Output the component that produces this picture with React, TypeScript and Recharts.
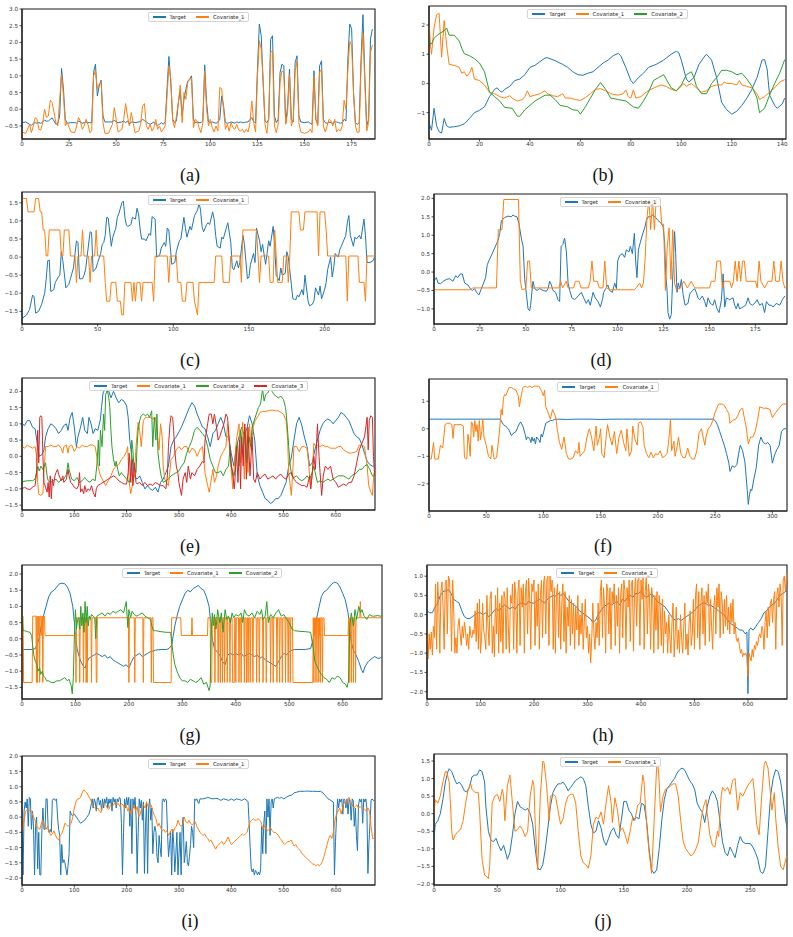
import { LineChart, Line, XAxis, YAxis, Legend, ReferenceArea } from "recharts";

type Pt = [number, number];

const BLUE = "#1f77b4";
const ORANGE = "#ff7f0e";
const GREEN = "#2ca02c";
const RED = "#d62728";
const FONT = "'DejaVu Sans', sans-serif";

// ---------- (a) ----------
const aTarget: Pt[] = [[0,-0.4],[2,-0.38],[4,-0.45],[5,-0.48],[6,-0.42],[7,-0.4],[8,-0.42],[9,-0.4],[10,-0.42],[11,-0.38],[12,-0.32],[13,-0.36],[14,-0.35],[15,-0.3],[16,-0.26],[17,-0.35],[18,-0.45],[19,-0.42],[20,-0.2],[21,1.22],[22,0.6],[23,-0.3],[24,-0.42],[26,-0.4],[28,-0.4],[29,-0.42],[30,-0.35],[31,-0.38],[32,-0.42],[33,-0.4],[34,-0.38],[35,-0.4],[36,-0.4],[37,-0.4],[38,1.1],[39,1.35],[40,0.4],[41,0.7],[42,0.87],[43,-0.2],[44,-0.38],[46,-0.38],[48,-0.38],[49,-0.32],[50,-0.38],[51,-0.4],[53,-0.38],[54,-0.35],[55,-0.4],[56,-0.35],[57,-0.45],[58,-0.38],[59,-0.38],[60,-0.4],[62,-0.38],[63,-0.36],[64,-0.3],[65,-0.34],[66,-0.38],[67,-0.42],[68,-0.45],[69,-0.42],[70,-0.38],[71,-0.45],[72,-0.48],[73,-0.45],[74,-0.4],[75,-0.45],[76,-0.38],[77,0.6],[78,1.58],[79,0.8],[80,-0.3],[81,-0.4],[82,-0.35],[83,0.2],[84,0.55],[85,-0.2],[86,0.3],[87,0.6],[88,0.85],[89,0.9],[90,1.0],[91,-0.3],[92,-0.4],[93,-0.38],[94,-0.4],[95,-0.4],[96,-0.35],[97,1.33],[98,0.2],[99,-0.38],[100,-0.4],[101,-0.38],[102,-0.4],[103,-0.42],[104,-0.38],[105,-0.3],[106,0.4],[107,0.1],[108,-0.4],[109,-0.42],[110,-0.4],[111,-0.38],[112,-0.4],[113,-0.42],[114,-0.38],[115,-0.4],[116,-0.38],[117,-0.4],[118,-0.4],[119,-0.38],[120,-0.38],[121,-0.3],[122,-0.25],[123,-0.38],[124,-0.4],[125,1.2],[126,2.55],[127,2.2],[128,0.8],[129,-0.35],[130,-0.4],[131,-0.3],[132,2.1],[133,2.2],[134,-0.2],[135,-0.4],[136,-0.3],[137,1.1],[138,1.35],[139,1.3],[140,-0.42],[141,0.1],[142,1.2],[143,-0.3],[144,-0.38],[145,1.4],[146,1.6],[147,-0.2],[148,-0.38],[150,-0.4],[152,-0.38],[153,-0.42],[154,-0.45],[155,1.15],[156,-0.3],[157,-0.45],[158,1.3],[159,1.45],[160,-0.3],[161,-0.4],[162,-0.42],[163,-0.38],[164,-0.4],[165,-0.42],[166,-0.38],[167,-0.38],[168,-0.4],[169,-0.42],[170,-0.4],[171,-0.3],[172,-0.35],[173,1.5],[174,2.55],[175,2.4],[176,0.5],[177,-0.4],[178,-0.45],[179,-0.4],[180,1.5],[181,2.83],[182,1.0],[183,-0.5],[184,-0.3],[185,2.1],[186,2.4]];
const aCov1: Pt[] = [[0,-0.68],[2,-0.72],[4,-0.45],[5,-0.7],[6,-0.5],[7,-0.25],[8,-0.3],[9,-0.6],[10,-0.62],[11,-0.4],[12,0.0],[13,-0.25],[14,-0.2],[15,0.27],[16,0.2],[17,-0.1],[18,-0.4],[19,-0.5],[20,0.3],[21,1.05],[22,0.4],[23,-0.5],[24,-0.4],[26,-0.68],[28,-0.7],[29,-0.5],[30,-0.25],[31,-0.35],[32,-0.6],[33,-0.5],[34,-0.3],[35,-0.45],[36,-0.7],[37,-0.65],[38,1.0],[39,1.15],[40,0.6],[41,0.75],[42,0.82],[43,-0.4],[44,-0.72],[46,-0.72],[48,-0.45],[49,0.05],[50,-0.3],[51,-0.68],[53,-0.6],[54,-0.3],[55,0.17],[56,-0.2],[57,-0.5],[58,-0.1],[59,-0.4],[60,-0.7],[62,-0.65],[63,-0.45],[64,0.1],[65,0.17],[66,-0.5],[67,-0.6],[68,-0.45],[69,-0.65],[70,-0.55],[71,-0.3],[72,-0.6],[73,-0.5],[74,-0.68],[75,-0.6],[76,-0.5],[77,0.4],[78,1.3],[79,0.9],[80,-0.35],[81,-0.55],[82,-0.2],[83,0.2],[84,0.72],[85,-0.4],[86,0.5],[87,0.3],[88,0.82],[89,0.88],[90,0.95],[91,-0.55],[92,-0.3],[93,-0.35],[94,-0.55],[95,-0.7],[96,-0.4],[97,1.15],[98,0.0],[99,-0.5],[100,-0.3],[101,-0.55],[102,-0.68],[103,-0.5],[104,-0.65],[105,0.65],[106,0.62],[107,0.0],[108,-0.6],[109,-0.45],[110,-0.65],[111,-0.4],[112,-0.55],[113,-0.6],[114,-0.45],[115,-0.62],[116,-0.65],[117,-0.6],[118,-0.7],[119,-0.6],[120,-0.68],[121,-0.4],[122,0.25],[123,-0.4],[124,-0.68],[125,1.0],[126,2.05],[127,1.8],[128,0.9],[129,-0.45],[130,-0.72],[131,-0.2],[132,1.7],[133,1.75],[134,-0.5],[135,-0.7],[136,-0.45],[137,0.8],[138,1.15],[139,1.1],[140,-0.45],[141,-0.1],[142,1.05],[143,-0.5],[144,-0.3],[145,1.15],[146,1.45],[147,-0.4],[148,-0.68],[150,-0.72],[152,-0.68],[153,-0.6],[154,-0.7],[155,1.0],[156,-0.3],[157,-0.5],[158,1.1],[159,1.2],[160,-0.5],[161,-0.68],[162,-0.5],[163,-0.3],[164,-0.35],[165,-0.5],[166,-0.3],[167,-0.68],[168,-0.6],[169,-0.65],[170,-0.5],[171,0.27],[172,0.0],[173,1.2],[174,2.03],[175,1.9],[176,0.5],[177,-0.5],[178,-0.7],[179,-0.68],[180,1.3],[181,2.28],[182,0.8],[183,-0.65],[184,-0.4],[185,1.7],[186,1.92]];

// ---------- (b) ----------
const bTarget: Pt[] = [[0,-1.35],[1,-1.6],[2,-0.85],[3,-1.45],[4,-1.65],[5,-1.7],[6,-1.2],[7,-1.45],[8,-1.5],[10,-1.48],[12,-1.45],[14,-1.38],[16,-1.2],[18,-1.0],[20,-0.92],[22,-0.8],[24,-0.45],[26,-0.2],[27,-0.15],[28,-0.25],[29,-0.3],[30,-0.2],[32,-0.1],[34,0.1],[36,0.15],[38,0.3],[40,0.55],[42,0.62],[44,0.75],[46,0.87],[47,0.88],[50,0.78],[53,0.65],[55,0.55],[57,0.4],[59,0.3],[61,0.28],[63,0.35],[65,0.4],[67,0.55],[69,0.7],[71,0.8],[73,0.95],[75,1.03],[76,0.95],[78,0.55],[80,0.1],[81,0.0],[83,0.2],[85,0.35],[87,0.55],[90,0.65],[93,0.8],[96,1.0],[98,1.1],[99,1.05],[100,0.8],[102,0.15],[103,0.05],[105,0.2],[107,0.65],[109,0.9],[110,1.0],[112,0.8],[114,0.2],[116,-0.65],[118,-0.9],[120,-1.05],[122,-0.95],[124,-0.75],[126,-0.5],[128,-0.2],[130,0.2],[132,0.8],[133,0.82],[134,0.5],[135,-0.4],[137,-0.75],[138,-0.85],[140,-0.7],[141,-0.5]];
const bCov1: Pt[] = [[0,2.15],[0.5,1.4],[1,1.0],[2,1.9],[3,2.35],[4,2.4],[5,0.9],[6,2.15],[7,1.3],[8,0.65],[10,0.62],[12,0.55],[13,0.35],[14,0.4],[15,0.25],[16,0.35],[17,0.55],[18,0.15],[20,0.1],[22,-0.05],[24,-0.3],[26,-0.35],[28,-0.45],[30,-0.5],[32,-0.42],[33,-0.5],[35,-0.6],[37,-0.55],[38,-0.45],[39,-0.25],[40,-0.45],[42,-0.4],[44,-0.35],[46,-0.25],[47,-0.35],[49,-0.42],[51,-0.45],[53,-0.35],[54,-0.5],[56,-0.5],[58,-0.55],[60,-0.58],[62,-0.48],[64,-0.35],[66,-0.2],[68,-0.18],[70,-0.25],[72,-0.35],[75,-0.4],[77,-0.35],[78,-0.22],[79,-0.45],[80,-0.5],[81,-0.22],[82,-0.5],[84,-0.45],[86,-0.3],[88,-0.2],[90,-0.12],[92,-0.05],[94,-0.1],[96,-0.2],[98,-0.25],[100,-0.1],[101,0.0],[102,-0.1],[104,0.0],[106,-0.15],[108,-0.3],[110,-0.25],[112,-0.1],[114,-0.05],[116,-0.05],[117,0.05],[118,0.0],[120,0.0],[122,-0.05],[123,0.1],[124,-0.05],[126,-0.1],[128,-0.15],[130,-0.35],[131,-0.55],[133,-0.45],[135,-0.3],[137,-0.15],[139,0.05],[141,0.13]];
const bCov2: Pt[] = [[0,1.4],[1,1.35],[2,1.55],[4,1.7],[6,1.8],[7,1.9],[8,1.65],[10,1.65],[12,1.45],[13,1.2],[14,1.02],[16,0.95],[18,0.85],[20,0.7],[22,0.4],[24,-0.3],[26,-0.45],[28,-0.6],[30,-0.82],[33,-0.85],[35,-1.12],[36,-1.12],[38,-0.9],[40,-0.75],[42,-0.6],[44,-0.5],[46,-0.4],[48,-0.4],[50,-0.55],[52,-0.75],[55,-0.8],[57,-0.9],[59,-0.92],[60,-1.05],[62,-0.8],[64,-0.5],[66,-0.2],[68,0.03],[70,-0.2],[72,-0.5],[75,-0.55],[78,-0.6],[81,-0.8],[83,-0.85],[85,-0.6],[87,-0.3],[89,0.1],[91,0.2],[93,0.3],[94,0.15],[96,-0.15],[98,-0.25],[100,-0.05],[102,0.3],[104,0.4],[105,0.2],[106,-0.1],[108,-0.35],[110,-0.35],[112,0.0],[114,0.2],[116,0.45],[118,0.45],[120,0.4],[122,0.3],[124,0.35],[126,0.15],[128,-0.1],[130,-0.5],[131,-1.0],[133,-0.85],[135,-0.4],[137,0.0],[139,0.35],[141,0.82]];

// ---------- (c) ----------
const cTarget: Pt[] = [[0,-1.7],[3,-1.6],[5,-1.45],[7,-1.05],[8,-1.1],[9,-1.55],[11,-1.5],[13,-1.3],[15,-1.0],[16,-0.6],[17,-0.1],[18,-0.08],[19,-0.95],[21,-0.9],[22,-0.7],[24,-0.55],[25,-0.5],[26,0.15],[27,-0.1],[29,-0.85],[31,-0.75],[32,-0.6],[34,-0.3],[36,0.45],[37,0.4],[38,-0.6],[40,-0.6],[41,-0.5],[42,-0.35],[43,0.0],[45,0.7],[46,0.68],[47,-0.4],[49,-0.3],[50,-0.15],[52,0.1],[53,0.35],[54,0.4],[55,0.6],[56,1.1],[57,1.08],[59,0.3],[60,0.55],[62,0.8],[63,1.1],[64,1.2],[66,1.5],[67,1.55],[68,1.1],[69,0.88],[70,0.85],[72,0.9],[73,1.1],[75,1.05],[76,1.35],[77,1.2],[78,0.8],[79,0.5],[81,0.5],[82,0.45],[84,0.65],[85,0.6],[86,1.12],[88,1.05],[89,0.0],[91,0.05],[92,0.25],[94,0.4],[95,0.3],[96,0.8],[97,0.75],[99,-0.2],[101,-0.15],[102,0.15],[104,0.45],[105,0.5],[107,1.1],[108,0.8],[109,0.55],[111,0.85],[112,0.75],[114,1.15],[116,1.3],[117,1.5],[118,1.3],[119,0.85],[120,0.7],[122,0.9],[123,0.95],[124,0.9],[126,1.25],[127,1.05],[128,0.6],[129,0.3],[131,0.25],[132,0.55],[133,0.5],[135,0.8],[136,0.95],[138,0.4],[139,-0.3],[140,-0.35],[142,-0.1],[143,-0.3],[144,-0.15],[146,0.6],[147,0.35],[149,-0.6],[150,-0.55],[151,-0.2],[153,0.1],[154,-0.15],[155,0.8],[157,0.45],[158,0.15],[159,0.35],[161,-0.2],[162,0.1],[163,0.45],[164,0.3],[166,0.85],[167,0.3],[168,-0.5],[170,-0.65],[171,-0.3],[172,-0.5],[174,-0.45],[175,0.15],[176,0.0],[178,-0.75],[179,-1.15],[181,-1.18],[182,-1.05],[183,-1.1],[185,-0.9],[186,-1.05],[187,-0.5],[189,-1.2],[190,-1.35],[192,-1.3],[193,-1.2],[194,-0.85],[196,-1.05],[197,-0.8],[198,-1.15],[200,-0.9],[201,-0.7],[202,-0.35],[204,0.0],[205,-0.55],[206,-0.3],[207,0.1],[209,0.0],[210,0.2],[211,0.3],[213,0.5],[214,0.6],[215,0.95],[216,1.15],[217,0.6],[219,0.3],[220,0.55],[221,0.5],[223,0.6],[224,0.5],[226,1.05],[227,0.6],[228,-0.15],[230,-0.15],[232,-0.1],[233,0.0]];
const cCov1: Pt[] = [[0,1.62],[3,1.62],[4,1.25],[8,1.25],[9,1.62],[11,1.62],[12,1.25],[13,1.25],[14,0.75],[15,0.75],[16,0.03],[17,0.03],[18,0.75],[25,0.75],[26,0.03],[27,0.03],[28,0.75],[31,0.75],[32,0.03],[35,0.03],[36,-0.7],[37,0.03],[39,0.03],[40,0.75],[41,0.03],[44,0.03],[45,-0.7],[46,0.03],[48,0.03],[49,0.75],[50,0.03],[54,0.03],[55,-0.7],[56,-1.22],[58,-1.22],[59,-0.7],[62,-0.7],[63,-1.22],[65,-1.22],[66,-1.6],[67,-1.6],[68,-0.7],[72,-0.7],[73,-1.22],[74,-0.7],[75,-1.22],[76,-0.7],[78,-0.7],[79,-1.22],[80,-0.7],[86,-0.7],[87,-1.22],[88,0.03],[96,0.03],[97,-0.7],[98,0.03],[102,0.03],[103,-0.7],[105,-0.7],[106,-1.22],[108,-1.22],[109,-0.7],[113,-0.7],[114,-1.22],[116,-1.6],[117,-0.7],[127,-0.7],[128,0.03],[132,0.03],[133,-0.7],[137,-0.7],[138,0.03],[144,0.03],[145,-0.7],[146,0.75],[155,0.75],[156,0.03],[157,-0.7],[158,0.03],[163,0.03],[164,-0.7],[166,-0.7],[167,0.75],[168,0.03],[169,-0.7],[172,-0.7],[173,0.03],[175,0.03],[176,-0.7],[177,0.03],[178,1.25],[183,1.25],[184,0.75],[186,0.75],[187,1.25],[195,1.25],[196,0.03],[197,1.25],[200,1.25],[201,0.75],[202,0.03],[214,0.03],[215,-1.22],[216,0.03],[222,0.03],[223,-0.7],[226,-0.7],[227,-1.22],[228,0.03],[233,0.03]];

// ---------- (d) ----------
const dTarget: Pt[] = [[0,-0.25],[1.3,-0.15],[2.2,-0.3],[3.6,-0.32],[5,-0.25],[6.7,-0.2],[8.5,-0.18],[10.3,-0.25],[11.8,-0.1],[13,-0.15],[14.3,-0.05],[15.4,-0.05],[16.7,-0.3],[18.5,-0.35],[19.8,-0.45],[20.9,-0.5],[22.1,-0.45],[23.6,-0.58],[24.5,-0.62],[25.8,-0.45],[27,-0.3],[28.1,-0.15],[29,0.2],[30.3,0.35],[32.1,0.55],[33.9,0.75],[34.8,0.85],[35.8,1.05],[36.7,1.4],[38.5,1.48],[40.3,1.52],[42.1,1.5],[43,1.55],[43.9,1.52],[45.2,1.5],[46.3,1.3],[47.6,0.9],[48.5,0.7],[49.4,-0.2],[50.3,-0.6],[51.2,-1.0],[52.1,-1.05],[52.6,-0.9],[53.9,-0.25],[54.8,-0.45],[56.1,-0.5],[57.5,-0.45],[59.4,-0.5],[61.2,-0.52],[62.1,-0.45],[63,-0.25],[63.9,-0.35],[64.8,-0.5],[66.2,-0.55],[67.5,-0.75],[68.4,-0.8],[69.2,0.7],[70.2,0.75],[71.1,0.92],[72.1,0.55],[73,-0.3],[73.9,-0.5],[75.1,-0.7],[76.6,-0.75],[78.4,-0.65],[80.2,-0.55],[81.5,-0.7],[82.9,-0.85],[84,-0.75],[85.1,-0.9],[86.6,-0.55],[87.8,-0.7],[89.3,-0.8],[90.6,-0.95],[91.7,-0.75],[92.4,-0.55],[93.5,-0.45],[94.7,-0.35],[95.6,-0.5],[97.1,-0.55],[98.4,-0.3],[99.3,-0.45],[100,0.3],[101.1,0.45],[102.5,0.5],[103.8,0.4],[104.7,0.6],[106.2,0.55],[106.9,0.7],[108,0.5],[109.1,1.05],[109.8,0.3],[110.5,-0.15],[111.3,0.6],[112.3,0.8],[113.4,1.0],[114.7,1.2],[115.6,1.4],[116.5,1.5],[117.8,1.5],[119.2,1.55],[120.7,1.48],[122,1.4],[123.2,1.35],[124.7,1.25],[125.6,0.8],[126.1,0.0],[126.9,-0.5],[127.4,-1.1],[128.3,-1.28],[129.2,-1.15],[130.1,0.0],[131,1.1],[131.6,0.5],[132.3,-0.55],[133,-0.3],[133.8,-0.45],[134.7,-0.2],[135.6,-0.6],[136.7,-0.9],[138.3,-0.85],[139.2,-0.6],[140.7,-0.5],[141.9,-0.45],[142.8,-0.55],[143.7,-0.7],[144.7,-0.75],[146.1,-0.65],[147.4,-0.8],[148.3,-0.95],[149.2,-0.7],[150.5,-0.85],[151.9,-0.9],[152.8,-0.75],[154.1,-1.0],[155.2,-1.1],[156.5,-0.75],[157.4,-0.05],[158.3,-0.95],[159.2,-0.7],[161,-0.75],[162.8,-0.7],[163.7,-0.9],[164.6,-1.0],[165.5,-0.85],[166.4,-1.0],[168.2,-0.95],[169.7,-0.9],[171,-0.7],[171.9,-0.85],[173.3,-0.9],[174.6,-0.85],[175.9,-0.75],[177.3,-0.9],[178.8,-0.85],[180,-1.1],[181,-0.8],[182.4,-0.9],[183.7,-0.9],[184.6,-0.95],[186.4,-0.85],[188.2,-0.9],[189.7,-0.75],[191,-0.65]];
const dCov1: Pt[] = [[0,-0.48],[20,-0.48],[21,-0.43],[34,-0.43],[35,1.15],[37,1.15],[38,1.97],[46,1.97],[47,-0.25],[48,-0.48],[50,-0.45],[51,0.3],[52,0.3],[53,-0.43],[68,-0.43],[69,-0.25],[70,-0.43],[72,-0.25],[73,-0.43],[76,-0.43],[77,-0.25],[79,-0.25],[80,-0.43],[84,-0.43],[85,-0.25],[86,0.3],[87,-0.25],[89,-0.25],[90,-0.43],[92,-0.43],[93,0.3],[94,-0.43],[96,-0.48],[109,-0.48],[110,-0.43],[112,-0.3],[113,-0.43],[114,-0.3],[115,0.4],[116,1.5],[117,1.97],[118,1.15],[119,1.97],[120,1.15],[121,1.97],[123,1.97],[124,1.3],[125,1.3],[126,-0.5],[127,0.7],[128,1.2],[129,-0.2],[130,1.15],[131,-0.3],[132,-0.48],[134,-0.43],[136,-0.25],[138,-0.43],[140,-0.25],[142,-0.43],[150,-0.43],[151,-0.25],[153,-0.25],[154,0.3],[156,0.3],[157,-0.43],[158,-0.25],[161,-0.25],[162,-0.43],[163,-0.25],[164,0.3],[165,-0.25],[166,0.3],[167,-0.25],[168,0.3],[169,0.3],[170,-0.25],[175,-0.25],[176,-0.43],[177,0.3],[178,-0.25],[180,-0.43],[182,-0.25],[184,-0.25],[185,0.3],[186,-0.25],[188,-0.25],[189,0.3],[190,-0.25],[191,-0.43],[192,-0.43]];

// ---------- (e) ----------
const eTarget: Pt[] = [[0,1.0],[5,0.95],[10,1.1],[15,1.1],[20,0.9],[25,0.85],[30,0.3],[33,0.0],[38,0.05],[42,0.2],[45,0.6],[50,0.85],[55,1.0],[60,0.95],[65,0.85],[70,0.7],[75,0.8],[80,0.95],[85,1.0],[88,0.8],[92,1.2],[96,1.35],[100,0.9],[104,0.3],[107,0.6],[112,0.9],[116,1.2],[120,0.8],[125,0.7],[128,1.2],[132,1.0],[136,0.7],[140,0.85],[145,0.8],[150,1.15],[152,1.5],[155,1.95],[160,2.1],[165,2.05],[170,1.8],[175,2.0],[180,1.8],[185,1.65],[190,1.75],[195,1.7],[200,1.55],[203,1.2],[206,0.5],[210,0.0],[215,-0.6],[220,-0.7],[225,-0.6],[230,-0.8],[235,-1.0],[240,-0.9],[245,-1.0],[250,-1.05],[255,-0.95],[260,-1.1],[265,-0.8],[270,-0.7],[275,-0.5],[280,-0.3],[285,0.3],[290,0.5],[295,0.6],[300,0.75],[305,0.9],[310,1.1],[315,1.3],[320,1.5],[325,1.65],[330,1.55],[335,1.3],[340,1.1],[345,0.9],[350,0.85],[355,0.6],[360,0.3],[365,0.7],[370,0.8],[375,1.0],[380,1.2],[385,1.0],[390,0.6],[395,0.6],[400,0.1],[405,-0.3],[410,0.3],[415,0.6],[420,0.9],[425,0.65],[430,0.85],[435,1.25],[440,1.0],[445,0.5],[450,-0.6],[455,-0.9],[460,-1.1],[465,-1.3],[470,-1.35],[475,-1.45],[480,-1.4],[485,-1.3],[490,-1.3],[495,-1.2],[500,-1.0],[505,-0.8],[510,-0.3],[515,-0.05],[520,0.5],[525,1.0],[530,1.2],[535,0.95],[540,0.6],[545,0.3],[550,-0.3],[555,-0.2],[560,0.2],[565,0.5],[570,0.8],[575,1.0],[580,1.1],[585,1.15],[590,1.1],[595,1.0],[600,1.1],[605,1.2],[610,1.35],[615,1.3],[620,1.2],[625,1.1],[630,0.9],[635,0.7],[640,0.6],[645,0.55],[650,0.35],[655,0.1],[660,-0.15],[665,-0.25],[670,-0.3],[675,-0.3]];
const eCov1: Pt[] = [[0,0.3],[5,0.25],[10,0.35],[15,0.3],[20,0.25],[25,0.3],[28,0.0],[30,-0.8],[32,-1.15],[35,-1.2],[40,-1.15],[42,-0.5],[45,0.3],[50,0.3],[55,0.35],[60,0.3],[65,0.3],[70,0.35],[75,0.25],[78,0.1],[80,0.3],[85,0.35],[88,0.1],[90,0.3],[95,0.35],[100,0.15],[105,0.3],[110,0.25],[115,0.35],[120,0.3],[125,0.3],[130,0.35],[135,0.35],[140,0.3],[143,0.0],[146,-0.35],[150,-0.6],[155,-0.75],[160,-0.9],[165,-0.75],[170,-0.6],[175,-0.4],[180,-0.3],[185,-0.25],[190,-0.1],[195,0.0],[200,0.15],[202,0.3],[205,-0.8],[208,-1.15],[212,-0.8],[215,-0.6],[218,0.3],[222,1.05],[225,0.8],[228,0.3],[232,1.1],[236,1.2],[240,1.2],[245,1.2],[250,1.15],[255,1.2],[258,0.8],[262,0.2],[265,1.0],[268,0.6],[270,-0.3],[273,-0.7],[276,-0.8],[280,-0.9],[285,-0.1],[290,0.0],[295,0.2],[300,0.3],[305,0.2],[310,0.3],[315,0.3],[320,0.1],[325,0.25],[330,0.2],[335,0.0],[340,0.2],[345,0.3],[350,-0.5],[355,-0.9],[358,-1.1],[362,-0.7],[365,-0.4],[368,-0.8],[372,-0.6],[375,-0.3],[380,0.0],[385,0.15],[390,0.3],[393,1.0],[396,0.5],[400,-0.4],[403,-1.0],[406,-0.3],[410,0.5],[415,1.0],[418,-0.2],[422,1.05],[425,-0.7],[428,0.8],[432,-0.5],[435,1.0],[438,0.2],[442,0.9],[446,1.1],[450,1.2],[455,1.35],[460,1.38],[465,1.38],[470,1.4],[475,1.42],[480,1.42],[485,1.4],[490,1.4],[495,1.35],[500,1.3],[505,1.1],[508,0.5],[510,-0.5],[513,-0.9],[515,-1.2],[518,-0.4],[520,0.3],[525,0.3],[530,0.15],[535,0.3],[540,0.3],[545,0.25],[548,-0.2],[552,-1.0],[555,-0.6],[558,0.4],[562,0.3],[565,0.35],[570,0.3],[575,0.35],[580,0.3],[585,0.3],[590,0.25],[595,0.25],[600,0.25],[605,0.3],[610,0.3],[615,0.2],[620,0.15],[625,0.1],[630,0.1],[635,0.12],[640,0.15],[645,0.35],[650,0.35],[655,0.3],[660,-0.3],[663,-0.9],[667,-1.1],[670,-1.2],[673,-0.5],[675,-0.5]];
const eCov2: Pt[] = [[0,-0.78],[10,-0.75],[20,-0.75],[25,-0.7],[30,-0.3],[33,-0.45],[36,-0.3],[40,-0.4],[45,-0.2],[48,-0.6],[50,-0.75],[55,-0.8],[60,-0.75],[65,-0.7],[70,-0.8],[75,-0.72],[80,-0.7],[85,-0.55],[88,-0.2],[90,-0.4],[95,-0.7],[100,-0.75],[105,-0.65],[110,-0.8],[115,-0.75],[120,-0.65],[125,-0.75],[130,-0.8],[135,-0.7],[140,-0.75],[143,-0.3],[146,0.5],[148,-0.3],[150,0.8],[153,0.3],[156,1.3],[158,0.8],[160,1.9],[163,2.05],[166,1.8],[168,1.5],[170,0.8],[172,0.3],[175,-0.1],[178,-0.3],[180,-0.15],[183,-0.4],[186,-0.6],[190,-0.5],[195,-0.6],[200,-0.7],[205,-0.8],[208,-0.6],[210,0.5],[212,0.2],[214,-0.3],[218,-0.5],[220,0.3],[222,0.8],[225,1.1],[228,1.25],[232,1.3],[236,1.25],[240,1.3],[244,1.2],[248,1.4],[250,0.3],[253,1.2],[256,0.5],[258,1.3],[260,0.1],[263,-0.3],[266,-0.6],[270,-0.8],[275,-0.75],[280,-0.7],[285,-0.6],[290,-0.55],[295,-0.5],[300,-0.45],[305,-0.3],[310,-0.2],[315,0.1],[320,0.3],[325,0.5],[330,0.8],[335,0.9],[340,0.8],[345,0.7],[350,0.6],[355,0.3],[360,-0.1],[365,-0.3],[370,-0.5],[375,-0.5],[380,-0.45],[385,-0.6],[390,-0.4],[395,-0.3],[398,0.3],[400,-0.3],[405,-0.6],[408,-0.4],[412,0.4],[415,-0.3],[418,0.8],[422,0.1],[426,0.9],[430,-0.2],[434,0.6],[437,0.3],[440,0.9],[444,1.1],[448,1.3],[452,1.5],[456,1.6],[460,2.05],[463,1.7],[466,1.9],[470,1.95],[475,2.1],[478,2.0],[482,1.9],[486,1.85],[490,1.8],[495,1.85],[500,1.75],[504,1.5],[507,1.0],[510,0.3],[513,-0.3],[516,-0.6],[520,-0.65],[525,-0.6],[530,-0.7],[535,-0.75],[540,-0.7],[545,-0.6],[550,-0.7],[555,-0.5],[558,-0.3],[562,-0.6],[565,-0.8],[570,-0.75],[575,-0.8],[580,-0.75],[585,-0.7],[590,-0.75],[595,-0.7],[600,-0.65],[605,-0.6],[610,-0.6],[615,-0.6],[620,-0.65],[625,-0.7],[630,-0.6],[635,-0.55],[640,-0.5],[645,-0.4],[650,-0.4],[655,-0.3],[660,-0.25],[665,-0.4],[670,-0.6],[675,-0.6]];
const eCov3: Pt[] = [[0,-1.0],[5,-0.95],[10,-1.0],[15,-1.02],[20,-0.95],[25,-0.9],[28,-0.5],[30,0.8],[32,-0.2],[34,1.2],[36,1.25],[38,1.2],[40,0.0],[42,-0.8],[45,-0.95],[48,-1.1],[50,-0.8],[52,-1.25],[54,-0.6],[56,-1.3],[58,-0.7],[60,-0.9],[63,-0.6],[65,-0.5],[68,-0.4],[70,-0.55],[75,-0.75],[78,-0.6],[80,-0.8],[85,-0.7],[88,-0.4],[90,-0.6],[93,-0.8],[96,-0.85],[100,-0.95],[105,-1.0],[108,-0.9],[110,-0.5],[112,-1.1],[115,-1.0],[118,-1.15],[120,-0.9],[123,-1.1],[126,-1.0],[130,-1.05],[133,-0.9],[136,-1.1],[140,-1.25],[142,-1.0],[145,-0.9],[150,-0.85],[155,-0.8],[160,-0.75],[165,-0.7],[170,-0.65],[175,-0.6],[180,-0.65],[185,-0.75],[190,-0.8],[195,-0.85],[200,-0.85],[203,-0.5],[205,0.1],[208,-0.8],[210,-0.1],[212,-0.9],[215,-0.2],[218,-0.8],[220,-0.85],[225,-0.8],[230,-0.9],[235,-0.8],[240,-0.9],[245,-0.85],[250,-0.9],[255,-0.8],[260,-0.85],[265,-0.9],[270,-0.9],[275,-1.0],[278,-0.6],[280,0.3],[283,1.0],[285,1.25],[288,1.2],[290,0.8],[292,0.2],[295,-0.3],[298,-0.5],[300,-0.8],[305,-1.2],[308,-0.7],[312,-0.5],[315,-0.8],[318,-0.3],[322,-0.7],[325,-0.5],[330,-0.6],[335,-0.4],[340,-0.3],[345,-0.15],[348,-0.2],[350,0.5],[355,1.0],[358,1.3],[362,1.3],[365,1.0],[368,1.3],[372,0.9],[375,0.5],[378,0.6],[382,0.8],[386,1.0],[390,1.3],[393,1.2],[396,0.6],[400,-0.2],[403,-0.6],[406,-1.0],[408,-0.5],[410,0.3],[413,-0.8],[416,0.5],[418,-1.0],[420,0.6],[423,-0.3],[426,1.0],[429,-0.7],[432,0.9],[436,-0.6],[440,0.6],[443,-0.7],[446,-0.8],[450,-0.5],[455,-0.7],[460,-0.6],[465,-0.55],[470,-0.7],[475,-0.65],[480,-0.6],[485,-0.7],[490,-0.6],[495,-0.55],[500,-0.65],[505,-0.7],[510,-0.55],[515,-0.5],[520,-0.7],[525,-0.8],[530,-0.85],[535,-0.9],[540,-0.9],[545,-0.95],[550,-0.6],[552,-1.0],[555,-0.5],[558,0.0],[561,-0.4],[565,1.0],[568,0.0],[570,-0.5],[573,-1.2],[576,-0.6],[580,-0.3],[585,-0.4],[590,-0.3],[595,-0.7],[600,-0.8],[605,-0.95],[610,-0.9],[615,-0.85],[620,-0.9],[625,-0.8],[630,-0.8],[635,-0.6],[640,-0.2],[645,0.2],[650,0.4],[655,0.6],[660,1.2],[662,0.2],[664,1.1],[667,1.25],[670,1.2],[672,0.0],[674,-0.5],[675,-0.6]];

// ---------- (f) ----------
const fTarget: Pt[] = [[0,0.35],[62,0.35],[63,0.3],[65,0.15],[67,0.1],[70,-0.05],[72,-0.25],[74,-0.15],[76,-0.1],[78,0.1],[80,0.25],[82,0.1],[84,-0.2],[85,-0.4],[86,-0.3],[88,-0.35],[89,-0.5],[90,-0.3],[91,-0.45],[92,-0.35],[93,-0.55],[94,-0.3],[96,-0.4],[97,-0.5],[98,-0.2],[99,-0.3],[100,-0.15],[102,0.2],[104,0.25],[106,0.3],[108,0.3],[110,0.35],[112,0.35],[120,0.34],[130,0.35],[140,0.35],[150,0.34],[160,0.35],[170,0.35],[180,0.35],[190,0.35],[200,0.35],[210,0.35],[220,0.35],[230,0.35],[240,0.35],[248,0.35],[250,0.3],[252,0.15],[254,-0.1],[256,-0.35],[258,-0.6],[260,-0.9],[262,-1.25],[263,-1.55],[265,-1.35],[267,-1.4],[269,-1.3],[271,-0.8],[272,-0.6],[273,-0.7],[274,-0.8],[276,-1.2],[277,-1.7],[278,-2.2],[279,-2.75],[280,-2.4],[281,-2.2],[282,-2.25],[284,-1.8],[286,-1.4],[287,-1.0],[288,-0.6],[290,-0.3],[292,-0.5],[294,-0.55],[296,-0.5],[298,-0.6],[300,-1.25],[302,-0.95],[304,-0.75],[306,-0.6],[308,-0.1],[310,0.0],[312,0.0]];
const fCov1: Pt[] = [[0,-1.1],[2,-1.1],[4,-0.5],[5,-1.1],[8,-1.1],[10,-0.6],[12,-0.7],[14,0.15],[16,0.2],[18,0.2],[20,0.15],[21,-0.35],[22,0.15],[24,0.15],[28,0.15],[30,0.1],[31,-1.05],[33,-1.1],[34,-0.2],[35,-0.5],[36,-1.0],[37,0.25],[38,0.2],[39,-0.3],[40,0.3],[41,-0.1],[42,0.15],[43,-0.45],[44,0.3],[45,-0.4],[46,-0.1],[47,0.35],[48,-0.3],[50,-0.6],[52,-1.0],[54,-1.1],[55,-0.6],[57,-1.1],[59,-1.05],[60,-0.7],[61,-0.3],[62,0.1],[63,0.7],[64,0.5],[65,1.1],[66,1.25],[67,1.2],[68,1.3],[70,1.5],[72,1.5],[74,1.45],[76,1.4],[78,1.2],[79,0.8],[80,1.1],[82,1.5],[84,1.55],[86,1.5],[88,1.55],[90,1.5],[92,1.55],[94,1.55],[96,1.55],[98,1.4],[100,1.2],[101,1.4],[102,0.8],[104,0.6],[106,0.35],[108,0.7],[110,0.5],[111,0.35],[112,0.0],[114,-0.5],[116,-0.75],[118,-0.3],[120,-0.9],[122,-1.1],[124,-1.1],[126,-1.05],[128,-0.8],[130,-0.9],[131,-0.5],[132,-1.0],[134,-0.9],[136,-0.8],[138,-0.3],[140,0.0],[142,-0.3],[144,-0.8],[146,0.1],[147,-0.6],[149,-0.3],[150,0.0],[151,-0.9],[153,-1.05],[155,-0.2],[156,0.15],[158,-0.3],[160,-0.6],[162,-0.1],[164,-0.9],[166,-0.3],[168,-0.05],[170,-0.5],[172,-0.8],[173,0.0],[175,-1.0],[177,-0.8],[178,0.1],[180,-0.4],[182,-0.6],[183,0.2],[185,0.25],[187,0.05],[188,-0.6],[190,-0.9],[192,-1.05],[194,-0.85],[196,-1.05],[198,-0.9],[200,-0.95],[202,-0.8],[204,-1.05],[206,-1.0],[208,-0.9],[209,-0.6],[210,-0.2],[211,0.35],[212,-0.8],[214,-0.45],[215,-1.0],[217,-0.6],[218,-0.3],[220,-0.9],[222,-1.05],[224,-1.05],[226,-0.7],[228,-1.0],[230,-1.1],[232,-1.1],[234,-0.8],[236,-0.15],[238,0.0],[240,-0.4],[241,-0.6],[242,-0.3],[244,0.0],[246,0.1],[248,0.3],[250,0.6],[253,0.9],[256,0.9],[258,0.85],[260,0.7],[262,0.55],[263,0.2],[265,0.3],[268,0.35],[270,0.5],[272,0.7],[274,0.75],[275,0.5],[277,0.1],[279,-0.55],[281,-0.3],[283,-0.3],[285,-0.1],[287,0.3],[289,0.8],[292,0.75],[295,0.75],[298,0.7],[300,0.4],[303,0.6],[306,0.75],[309,0.9],[312,0.9]];

// ---------- (g) ----------
const gTarget: Pt[] = [[0,-0.33],[20,-0.33],[25,-0.3],[30,-0.1],[33,0.1],[36,0.4],[40,0.7],[45,1.0],[50,1.3],[55,1.45],[60,1.5],[65,1.6],[70,1.7],[75,1.72],[80,1.7],[85,1.6],[90,1.4],[95,1.0],[98,0.5],[100,0.1],[103,-0.3],[106,-0.5],[110,-0.7],[115,-0.85],[118,-0.9],[120,-0.8],[125,-0.6],[130,-0.55],[135,-0.5],[140,-0.45],[145,-0.5],[150,-0.55],[155,-0.5],[160,-0.6],[165,-0.55],[170,-0.65],[175,-0.7],[180,-0.75],[185,-0.8],[190,-0.85],[195,-0.8],[200,-0.9],[205,-0.7],[210,-0.55],[215,-0.5],[220,-0.45],[225,-0.55],[230,-0.5],[235,-0.45],[240,-0.4],[245,-0.38],[250,-0.35],[260,-0.33],[270,-0.33],[275,-0.3],[280,-0.2],[283,0.1],[286,0.4],[290,0.7],[295,1.0],[300,1.2],[305,1.4],[310,1.5],[315,1.45],[320,1.55],[325,1.6],[330,1.65],[335,1.55],[340,1.5],[345,1.3],[350,1.0],[353,0.5],[356,0.0],[360,-0.3],[365,-0.4],[370,-0.5],[375,-0.7],[380,-0.8],[385,-0.5],[390,-0.45],[395,-0.5],[400,-0.45],[405,-0.5],[410,-0.45],[415,-0.55],[420,-0.5],[425,-0.45],[430,-0.5],[435,-0.55],[440,-0.5],[445,-0.6],[450,-0.55],[455,-0.65],[460,-0.7],[465,-0.75],[470,-0.8],[475,-0.85],[480,-0.7],[485,-0.55],[490,-0.45],[495,-0.5],[500,-0.4],[505,-0.35],[510,-0.33],[520,-0.33],[530,-0.33],[540,-0.3],[545,0.0],[548,0.4],[552,0.7],[556,1.0],[560,1.3],[565,1.45],[570,1.5],[575,1.6],[580,1.7],[585,1.75],[590,1.72],[595,1.6],[600,1.4],[605,1.2],[610,0.8],[613,0.3],[616,-0.1],[620,-0.35],[625,-0.5],[630,-0.7],[635,-0.95],[638,-1.05],[642,-0.85],[648,-0.7],[655,-0.6],[660,-0.55],[665,-0.6],[670,-0.6],[673,-0.55]];
const gCov1: Pt[] = [[0,0.7],[2,0.7],[3,-1.35],[19,-1.35],[20,0.7],[26,0.7],[27,-1.35],[28,0.7],[29,-1.35],[30,0.7],[31,0.1],[32,0.7],[33,-1.35],[34,0.7],[36,0.7],[37,0.1],[38,0.7],[39,-1.35],[40,0.7],[42,0.7],[43,0.1],[99,0.1],[100,0.15],[101,-1.35],[102,0.65],[107,0.65],[108,-1.35],[109,0.65],[114,0.65],[115,-1.35],[116,0.65],[119,0.65],[120,-1.35],[121,0.65],[122,-1.35],[123,0.65],[129,0.65],[130,-1.35],[131,0.65],[138,0.65],[139,-1.35],[140,-1.35],[141,0.65],[199,0.65],[200,-1.35],[201,0.65],[210,0.65],[211,-1.35],[212,0.65],[226,0.65],[227,-1.35],[228,0.65],[241,0.65],[242,-1.35],[243,0.65],[245,0.65],[246,-1.35],[279,-1.35],[280,0.65],[297,0.65],[298,0.1],[317,0.1],[318,0.65],[319,0.1],[347,0.1],[348,0.65],[352,0.65],[353,-1.35],[355,-1.35],[356,0.65],[360,0.65],[361,-1.35],[362,0.65],[366,0.65],[367,-1.35],[368,0.65],[370,0.65],[371,-1.35],[372,0.65],[374,0.65],[375,-1.35],[376,0.65],[378,0.65],[379,-1.35],[380,0.65],[383,0.65],[384,-1.35],[385,0.65],[388,0.65],[389,-1.35],[390,0.65],[393,0.65],[394,-1.35],[397,-1.35],[398,0.65],[399,0.65],[400,-1.35],[401,0.65],[405,0.65],[406,-1.35],[407,0.65],[409,0.65],[410,-1.35],[411,0.65],[415,0.65],[416,-1.35],[417,0.65],[419,0.65],[420,-1.35],[421,0.65],[422,0.65],[423,-1.35],[424,0.65],[426,0.65],[427,-1.35],[428,0.65],[431,0.65],[432,-1.35],[433,0.65],[438,0.65],[439,-1.35],[440,0.65],[443,0.65],[444,-1.35],[445,0.65],[450,0.65],[451,-1.35],[452,0.65],[456,0.65],[457,-1.35],[458,0.65],[464,0.65],[465,-1.35],[466,0.65],[469,0.65],[470,-1.35],[471,0.65],[476,0.65],[477,-1.35],[478,0.65],[481,0.65],[482,-1.35],[483,0.65],[486,0.65],[487,-1.35],[488,0.65],[492,0.65],[493,-1.35],[494,0.65],[497,0.65],[498,-1.35],[499,0.65],[501,0.65],[502,-1.35],[503,0.65],[506,0.65],[507,-1.35],[544,-1.35],[545,0.65],[546,-1.35],[547,0.65],[548,0.1],[549,0.65],[550,-1.35],[551,0.65],[553,0.65],[554,-1.35],[555,0.65],[556,0.1],[557,0.65],[558,-1.35],[559,0.65],[561,0.65],[562,-1.35],[563,0.65],[565,0.65],[566,0.1],[610,0.1],[611,0.65],[612,-1.35],[613,0.65],[615,0.65],[616,-1.35],[617,0.65],[619,0.65],[620,-1.35],[621,0.65],[623,0.65],[624,-1.35],[625,0.65],[632,0.65],[633,1.15],[634,0.65],[673,0.65]];
const gCov2: Pt[] = [[0,0.7],[2,0.25],[5,0.25],[10,0.22],[15,0.2],[18,0.1],[20,-0.2],[22,-0.5],[25,-0.7],[28,-0.8],[30,-1.0],[33,-0.9],[35,-1.1],[38,-1.0],[40,-1.15],[43,-1.2],[46,-1.3],[50,-1.3],[55,-1.35],[60,-1.35],[65,-1.3],[70,-1.3],[75,-1.25],[80,-1.2],[85,-1.3],[88,-1.25],[90,-1.35],[92,-1.45],[94,-1.7],[96,-1.2],[98,0.1],[100,0.9],[102,0.3],[104,0.6],[106,0.65],[108,0.3],[110,1.0],[112,0.4],[114,0.8],[116,0.2],[118,1.15],[120,0.5],[122,1.0],[124,0.4],[126,0.7],[128,0.6],[130,0.75],[133,0.7],[136,0.65],[138,0.0],[140,0.7],[145,0.75],[150,0.8],[155,0.7],[160,0.8],[165,0.75],[170,0.85],[175,0.8],[180,0.85],[185,0.9],[190,0.8],[195,1.15],[198,0.35],[200,0.9],[203,0.65],[206,0.85],[210,0.75],[215,0.7],[220,0.75],[225,0.8],[230,0.7],[235,0.65],[240,0.6],[243,0.4],[246,0.25],[250,0.25],[260,0.22],[270,0.2],[278,0.2],[280,-0.1],[283,-0.5],[286,-0.8],[290,-1.0],[295,-1.2],[300,-1.3],[305,-1.3],[310,-1.35],[315,-1.25],[320,-1.3],[325,-1.35],[330,-1.3],[335,-1.2],[340,-1.4],[345,-1.35],[348,-1.5],[350,-1.6],[352,-1.45],[354,0.2],[356,0.8],[358,0.4],[360,0.75],[363,0.3],[366,0.9],[370,0.5],[373,0.8],[376,0.2],[380,0.9],[383,0.6],[386,0.7],[390,0.5],[393,0.8],[396,0.65],[400,0.75],[405,0.7],[410,0.8],[413,0.5],[416,0.9],[420,0.75],[425,0.7],[430,0.8],[435,0.65],[440,0.85],[445,0.75],[448,0.9],[451,0.6],[455,0.7],[458,1.15],[461,0.5],[465,0.75],[470,0.65],[475,0.8],[480,0.9],[485,0.7],[490,0.75],[495,0.6],[500,0.5],[505,0.3],[510,0.25],[520,0.23],[530,0.22],[540,0.2],[545,-0.3],[548,-0.7],[552,-0.85],[556,-1.0],[560,-1.1],[565,-1.2],[570,-1.25],[575,-1.35],[580,-1.2],[585,-1.25],[590,-1.15],[595,-1.2],[600,-1.35],[605,-1.4],[608,-1.5],[611,-1.3],[613,0.3],[616,0.8],[620,0.4],[623,0.9],[626,0.6],[630,1.0],[633,0.8],[636,0.9],[640,0.7],[645,0.6],[650,0.75],[655,0.7],[660,0.7],[665,0.72],[670,0.7],[673,0.7]];

// ---------- (h) ----------
const hTarget: Pt[] = [[0,0.1],[5,0.05],[10,0.05],[15,0.2],[20,0.3],[25,0.5],[30,0.6],[35,0.62],[40,0.65],[45,0.55],[50,0.4],[55,0.35],[60,0.3],[65,0.1],[70,-0.05],[75,-0.1],[80,-0.1],[85,-0.05],[90,0.0],[95,0.05],[100,0.05],[105,0.0],[110,0.05],[115,-0.05],[120,0.0],[125,0.1],[130,0.15],[135,0.1],[140,0.2],[145,0.25],[150,0.2],[155,0.15],[160,0.2],[165,0.15],[170,0.25],[175,0.3],[180,0.3],[185,0.25],[190,0.35],[195,0.3],[200,0.3],[205,0.35],[210,0.4],[215,0.35],[220,0.3],[225,0.4],[230,0.45],[235,0.5],[240,0.48],[245,0.55],[250,0.5],[255,0.55],[260,0.45],[265,0.35],[270,0.3],[275,0.25],[280,0.2],[285,0.1],[290,0.05],[295,0.0],[300,-0.05],[305,-0.1],[310,-0.2],[315,-0.15],[320,0.0],[325,0.1],[330,0.2],[335,0.25],[340,0.3],[345,0.25],[350,0.3],[355,0.35],[360,0.25],[365,0.4],[370,0.35],[375,0.45],[380,0.5],[385,0.45],[390,0.55],[395,0.55],[400,0.6],[405,0.5],[410,0.45],[415,0.5],[420,0.55],[425,0.45],[430,0.35],[435,0.3],[440,0.25],[445,0.2],[450,0.1],[455,0.0],[460,-0.1],[465,-0.15],[470,-0.1],[475,-0.15],[480,-0.1],[485,-0.05],[490,0.0],[495,0.05],[500,0.1],[505,0.2],[510,0.25],[515,0.3],[520,0.3],[525,0.25],[530,0.25],[535,0.2],[540,0.15],[545,0.1],[550,0.05],[555,0.0],[560,-0.1],[565,-0.2],[570,-0.25],[575,-0.3],[580,-0.35],[585,-0.4],[590,-0.4],[595,-0.5],[598,-0.45],[600,-2.05],[602,-0.4],[605,-0.35],[610,-0.4],[615,-0.3],[620,-0.2],[625,-0.1],[630,0.05],[635,0.1],[640,0.2],[645,0.25],[650,0.3],[655,0.4],[660,0.5],[665,0.55],[670,0.6],[673,0.6]];
const hCov1: Pt[] = [[0,-0.3],[2,-1.15],[4,-0.5],[6,-0.9],[8,-0.45],[10,-1.05],[12,-0.3],[14,-0.6],[16,0.8],[18,-0.9],[20,0.85],[22,0.3],[24,-1.0],[26,0.6],[28,0.85],[30,0.2],[32,-0.9],[34,0.8],[36,0.9],[38,-0.5],[40,1.0],[42,0.9],[44,0.3],[46,-0.95],[48,0.9],[50,0.1],[52,-1.0],[54,-0.6],[56,-1.0],[58,-0.3],[60,-0.1],[62,-0.5],[64,-0.8],[66,-0.3],[68,-0.6],[70,-0.2],[72,-0.4],[74,-0.8],[76,-0.5],[78,-0.9],[80,-0.3],[82,-0.55],[84,-0.6],[86,-0.4],[88,-0.5],[90,0.1],[92,-0.7],[94,0.3],[96,-0.9],[98,0.4],[100,-1.0],[102,-0.6],[104,0.3],[106,-0.4],[108,-0.6],[110,-0.9],[112,0.5],[114,-0.3],[116,-0.8],[118,0.4],[120,0.6],[122,-1.0],[124,-0.3],[126,-1.1],[128,0.5],[130,-0.5],[132,0.7],[134,-1.0],[136,0.3],[138,-0.7],[140,0.5],[142,-1.0],[144,0.6],[146,0.4],[148,-0.9],[150,0.7],[152,-0.3],[154,-1.0],[156,0.5],[158,0.3],[160,0.8],[162,-0.9],[164,0.85],[166,0.5],[168,-1.0],[170,0.6],[172,0.9],[174,-0.8],[176,0.7],[178,0.2],[180,0.8],[182,-1.0],[184,0.6],[186,0.9],[188,-0.5],[190,0.95],[192,0.4],[194,-0.9],[196,0.8],[198,0.6],[200,0.9],[202,-0.8],[204,0.6],[206,-0.3],[208,0.8],[210,-0.9],[212,0.5],[214,0.9],[216,-0.6],[218,0.85],[220,1.0],[222,-0.5],[224,0.9],[226,1.0],[228,-0.8],[230,1.0],[232,0.6],[234,0.9],[236,-0.9],[238,0.7],[240,-1.0],[242,0.5],[244,0.8],[246,-0.6],[248,0.6],[250,-0.9],[252,0.3],[254,0.8],[256,-0.7],[258,0.6],[260,-1.0],[262,0.2],[264,-0.3],[266,0.5],[268,-0.8],[270,0.4],[272,-0.5],[274,0.3],[276,-0.9],[278,0.2],[280,-0.4],[282,0.5],[284,-0.8],[286,0.0],[288,-0.5],[290,0.3],[292,-0.9],[294,-0.2],[296,0.4],[298,-0.6],[300,-0.3],[302,-1.0],[304,-0.5],[306,-1.25],[308,-0.6],[310,0.3],[312,-0.5],[314,-0.9],[316,-0.2],[318,-0.6],[320,0.3],[322,-0.8],[324,0.6],[326,0.9],[328,-0.6],[330,0.7],[332,0.2],[334,-1.0],[336,0.8],[338,0.6],[340,-0.5],[342,0.7],[344,-0.9],[346,0.6],[348,0.3],[350,0.8],[352,-0.8],[354,0.5],[356,-0.3],[358,0.7],[360,-1.0],[362,0.5],[364,0.8],[366,-0.6],[368,0.9],[370,0.6],[372,-0.9],[374,0.7],[376,0.2],[378,0.9],[380,-0.7],[382,0.8],[384,0.9],[386,-0.95],[388,0.6],[390,1.0],[392,-0.3],[394,0.9],[396,0.95],[398,-0.8],[400,0.9],[402,0.4],[404,1.0],[406,-0.9],[408,0.6],[410,1.0],[412,-0.5],[414,0.8],[416,0.5],[418,-0.9],[420,0.7],[422,0.4],[424,-1.0],[426,0.5],[428,-0.4],[430,0.6],[432,-0.9],[434,0.5],[436,0.2],[438,-0.8],[440,0.4],[442,-1.0],[444,0.1],[446,-0.5],[448,-0.2],[450,-1.0],[452,0.0],[454,-0.6],[456,-1.0],[458,-0.2],[460,0.3],[462,-1.1],[464,-0.5],[466,0.2],[468,-0.9],[470,-0.4],[472,-1.0],[474,0.0],[476,-0.6],[478,-1.0],[480,-0.3],[482,0.3],[484,-0.9],[486,-0.5],[488,-1.05],[490,-0.2],[492,0.1],[494,-0.8],[496,-0.5],[498,0.4],[500,-0.9],[502,0.5],[504,0.8],[506,-0.6],[508,0.6],[510,-0.9],[512,0.3],[514,0.7],[516,-0.5],[518,0.5],[520,-0.8],[522,0.6],[524,0.3],[526,0.8],[528,-0.7],[530,0.4],[532,-0.3],[534,-0.9],[536,0.2],[538,0.5],[540,-0.5],[542,0.7],[544,0.2],[546,0.8],[548,-0.6],[550,0.6],[552,0.3],[554,-0.5],[556,0.4],[558,-0.3],[560,0.5],[562,-0.4],[564,0.2],[566,-0.5],[568,0.3],[570,-0.2],[572,0.4],[574,-0.5],[576,-0.2],[578,-0.6],[580,-0.7],[582,-0.6],[584,-0.8],[586,-1.0],[588,-0.9],[590,-1.1],[592,-1.0],[594,-1.05],[596,-1.0],[598,-1.1],[600,-1.6],[602,-1.0],[604,-1.1],[606,-1.2],[608,-0.9],[610,-1.1],[612,-0.8],[614,-0.9],[616,-0.7],[618,-0.8],[620,-0.6],[622,-0.5],[624,-0.6],[626,-0.3],[628,-0.4],[630,-0.9],[632,-0.2],[634,0.1],[636,-0.6],[638,0.2],[640,-0.3],[642,0.3],[644,0.4],[646,-0.2],[648,0.4],[650,0.6],[652,-0.9],[654,0.5],[656,0.7],[658,0.2],[660,0.8],[662,0.5],[664,-0.8],[666,0.9],[668,1.0],[670,0.6],[672,1.05],[673,0.95]];

// ---------- (i) ----------
const iTarget: Pt[] = [[0,-0.5],[2,-1.9],[4,0.2],[6,0.5],[8,0.3],[10,0.6],[12,-0.3],[14,0.65],[16,0.6],[18,-0.4],[20,0.2],[22,-0.3],[24,-1.9],[26,-0.3],[28,0.0],[30,-1.7],[32,-0.5],[34,-1.9],[36,-1.9],[38,-0.4],[40,0.3],[42,-0.4],[44,-0.4],[46,0.6],[48,0.6],[50,-0.4],[52,-0.5],[54,-0.4],[56,-0.5],[58,0.55],[60,0.6],[62,0.6],[64,0.55],[66,0.6],[68,0.0],[70,-0.4],[72,-0.6],[74,-1.9],[76,-0.9],[78,-1.5],[80,-1.4],[82,-1.5],[84,-1.7],[86,-1.9],[88,-1.6],[90,-1.2],[92,0.2],[94,0.1],[96,0.05],[100,0.1],[104,0.0],[108,-0.1],[112,-0.2],[116,-0.15],[120,-0.1],[124,0.0],[128,0.1],[131,0.3],[134,0.6],[136,0.3],[138,0.6],[140,0.5],[142,0.2],[144,0.6],[146,0.65],[148,0.4],[150,0.55],[152,0.2],[154,0.6],[156,0.3],[158,0.6],[160,0.45],[162,0.65],[164,0.3],[166,0.6],[168,0.45],[170,0.6],[172,0.2],[174,0.65],[176,0.5],[178,0.6],[180,0.3],[182,0.6],[184,0.5],[186,0.65],[188,0.6],[190,-0.2],[192,-1.9],[194,-0.5],[196,0.6],[198,0.3],[200,0.65],[202,0.4],[204,0.65],[206,-0.3],[208,0.6],[210,-1.2],[212,0.6],[214,0.3],[216,0.65],[218,0.0],[220,-1.85],[222,-0.5],[224,0.6],[226,0.3],[228,0.55],[230,-0.1],[232,0.5],[234,-1.85],[236,-0.3],[238,0.5],[240,-1.85],[242,0.3],[244,0.6],[246,-0.1],[248,0.3],[250,-1.2],[252,-0.5],[254,-0.3],[256,-0.5],[258,-1.3],[260,-1.5],[262,-0.6],[264,-1.0],[266,-1.3],[268,0.55],[270,0.6],[272,0.5],[274,0.6],[276,0.55],[278,-0.5],[280,-1.3],[282,-0.9],[284,-0.5],[286,-1.9],[288,-0.4],[290,-0.9],[292,-1.8],[294,-1.2],[296,-0.5],[298,-1.9],[300,-1.2],[302,-0.5],[304,-1.9],[306,-0.3],[308,0.0],[310,-1.5],[312,-1.2],[314,-0.8],[316,-1.5],[318,-1.6],[320,-1.3],[322,-0.9],[324,-0.3],[326,-0.5],[328,-1.0],[330,0.6],[332,0.55],[334,0.6],[336,0.5],[338,0.45],[340,0.6],[345,0.6],[350,0.62],[355,0.65],[360,0.62],[365,0.6],[370,0.62],[375,0.6],[380,0.55],[385,0.6],[390,0.58],[395,0.55],[400,0.6],[405,0.55],[410,0.6],[415,0.58],[420,0.55],[425,0.6],[430,0.55],[432,0.5],[434,-0.2],[436,-1.0],[438,-1.7],[440,-1.8],[442,-1.7],[444,-1.9],[446,-1.75],[448,-1.8],[450,-1.9],[452,-1.8],[454,-1.9],[456,-1.7],[458,-0.3],[460,-1.2],[462,-0.2],[464,0.2],[466,-1.2],[468,0.6],[470,0.0],[472,0.6],[474,-0.6],[476,0.5],[478,0.6],[480,0.3],[482,0.6],[484,0.62],[488,0.65],[492,0.62],[496,0.65],[500,0.6],[505,0.65],[510,0.7],[515,0.72],[520,0.8],[525,0.82],[530,0.85],[535,0.85],[540,0.85],[545,0.86],[550,0.85],[555,0.85],[560,0.85],[565,0.84],[570,0.85],[575,0.8],[580,0.7],[585,0.6],[590,0.55],[595,0.5],[597,-1.9],[599,-0.8],[601,0.0],[603,0.6],[605,0.3],[607,0.6],[609,0.5],[611,0.6],[613,0.1],[615,0.6],[617,0.55],[619,0.3],[621,0.6],[623,0.1],[625,0.6],[627,0.5],[629,-0.1],[631,0.6],[633,0.55],[635,-0.3],[637,0.3],[639,-0.6],[641,-1.1],[643,0.4],[645,0.6],[647,0.5],[649,0.6],[651,-0.2],[653,0.6],[655,0.5],[657,0.6],[659,0.3],[661,-1.85],[663,-0.8],[665,-0.2],[667,0.55],[669,0.6],[671,0.55],[674,0.55]];
const iCov1: Pt[] = [[0,-0.5],[3,-0.2],[5,0.0],[7,0.2],[10,0.25],[13,0.2],[16,0.25],[19,0.15],[22,0.0],[25,-0.1],[28,-0.3],[31,-0.35],[34,-0.4],[37,-0.2],[40,-0.1],[43,-0.3],[46,-0.4],[49,-0.3],[52,-0.5],[55,-0.6],[58,-0.55],[61,-0.45],[64,-0.6],[67,-0.7],[70,-0.75],[73,-0.6],[76,-0.55],[79,-0.4],[82,-0.2],[85,-0.25],[88,-0.3],[91,-0.25],[94,-0.2],[97,0.0],[100,0.3],[103,0.5],[106,0.6],[109,0.6],[112,0.65],[115,0.8],[118,0.9],[121,0.85],[124,0.8],[127,0.7],[130,0.6],[133,0.5],[136,0.35],[139,0.3],[142,0.25],[145,0.3],[148,0.2],[151,0.15],[154,0.4],[157,0.45],[160,0.4],[163,0.3],[166,0.25],[169,0.4],[172,0.35],[175,0.4],[178,0.5],[181,0.4],[184,0.45],[187,0.35],[190,0.45],[193,0.4],[196,0.3],[199,0.4],[202,0.2],[205,0.3],[208,0.1],[211,0.3],[214,0.4],[217,0.2],[220,0.35],[223,0.0],[226,0.1],[229,0.35],[232,0.4],[235,0.3],[238,0.5],[241,0.35],[244,0.45],[247,0.4],[250,0.2],[253,0.05],[256,-0.05],[259,-0.3],[262,-0.2],[265,-0.35],[268,-0.45],[271,-0.4],[274,-0.5],[277,-0.45],[280,-0.6],[283,-0.5],[286,-0.4],[289,-0.5],[292,-0.35],[295,-0.3],[298,-0.1],[301,-0.25],[304,-0.3],[307,-0.25],[310,0.0],[313,-0.15],[316,-0.2],[319,-0.1],[322,-0.2],[325,-0.25],[328,-0.2],[331,-0.15],[334,-0.3],[337,-0.4],[340,-0.5],[343,-0.55],[346,-0.6],[349,-0.55],[352,-0.65],[355,-0.7],[358,-0.8],[361,-0.75],[364,-0.85],[367,-0.95],[370,-1.05],[373,-0.95],[376,-0.9],[379,-0.85],[382,-0.8],[385,-0.9],[388,-0.85],[391,-0.75],[394,-0.65],[397,-0.8],[400,-0.9],[403,-0.85],[406,-0.8],[409,-0.75],[412,-0.7],[415,-0.65],[418,-0.6],[421,-0.55],[424,-0.6],[427,-0.55],[430,-0.5],[433,-0.3],[436,-0.15],[439,-0.1],[442,-0.05],[445,-0.1],[448,-0.1],[451,-0.05],[454,-0.1],[457,-0.15],[460,-0.4],[463,-0.3],[466,-0.35],[469,-0.45],[472,-0.4],[475,-0.35],[478,-0.45],[481,-0.5],[484,-0.5],[487,-0.55],[490,-0.6],[493,-0.7],[496,-0.75],[499,-0.85],[502,-0.9],[505,-0.85],[508,-0.8],[511,-0.8],[514,-0.75],[517,-0.85],[520,-0.95],[523,-0.9],[526,-1.0],[529,-1.05],[532,-1.1],[535,-1.2],[538,-1.25],[541,-1.3],[544,-1.35],[547,-1.4],[550,-1.45],[553,-1.5],[556,-1.55],[559,-1.55],[562,-1.6],[565,-1.55],[568,-1.6],[571,-1.55],[574,-1.45],[577,-1.3],[580,-1.1],[583,-0.9],[586,-0.7],[589,-0.6],[592,-0.7],[595,-0.5],[598,-0.1],[601,0.1],[604,0.2],[607,0.3],[610,0.1],[613,0.35],[616,0.5],[619,0.4],[622,0.6],[625,0.65],[628,0.5],[631,0.4],[634,0.3],[637,0.35],[640,0.4],[643,0.3],[646,0.35],[649,0.3],[652,0.3],[655,0.25],[658,0.2],[661,0.3],[664,0.2],[667,-0.3],[670,-0.7],[674,-0.7]];

// ---------- (j) ----------
const jTarget: Pt[] = [[0,-0.7],[1,-0.3],[3,-0.2],[5,0.0],[7,0.4],[9,0.9],[11,1.2],[12,1.28],[14,1.2],[16,1.0],[18,0.85],[20,0.9],[22,0.8],[24,0.65],[26,0.62],[28,0.75],[30,1.05],[32,1.1],[34,1.1],[36,1.25],[38,1.2],[40,0.9],[41,0.2],[43,-0.5],[45,-0.75],[47,-0.8],[49,-0.7],[51,-0.9],[53,-1.05],[55,-0.9],[57,-1.15],[58,-1.3],[60,-1.1],[62,-0.6],[64,0.0],[66,0.35],[68,0.2],[70,0.15],[72,0.1],[74,0.15],[76,0.0],[78,-0.3],[80,-1.0],[82,-1.55],[84,-1.6],[86,-1.45],[88,-1.0],[90,-0.4],[92,0.2],[94,0.6],[96,0.75],[98,0.85],[100,0.85],[102,0.9],[104,0.8],[106,0.65],[108,0.75],[110,0.85],[112,0.95],[114,1.0],[116,1.05],[118,1.0],[120,0.8],[122,0.2],[124,-0.3],[126,-0.55],[128,-0.5],[130,-0.2],[132,-0.4],[134,-0.75],[136,-0.9],[138,-0.7],[140,-0.5],[142,-0.4],[144,-0.6],[146,-0.7],[148,-0.2],[150,0.35],[152,0.35],[154,0.1],[156,0.0],[158,-0.2],[160,-0.1],[162,-0.15],[164,0.3],[166,0.25],[168,-0.2],[170,-1.0],[172,-1.6],[174,-1.7],[176,-1.6],[178,-1.0],[180,-0.2],[182,0.4],[184,0.7],[186,0.8],[188,0.9],[190,1.0],[192,1.15],[194,1.25],[196,1.3],[198,1.25],[200,1.1],[202,0.95],[204,0.85],[206,0.7],[208,0.3],[210,0.15],[212,0.05],[214,-0.25],[216,0.2],[218,0.5],[220,0.65],[222,0.55],[224,0.35],[226,-0.2],[228,-0.8],[230,-1.1],[232,-1.2],[234,-0.95],[236,-1.1],[238,-1.25],[240,-0.9],[242,-0.65],[244,-0.8],[246,-0.85],[248,-0.85],[250,-0.85],[252,-0.95],[254,-1.1],[256,-1.3],[258,-1.65],[260,-1.7],[262,-1.5],[264,-0.5],[266,0.5],[268,1.0],[270,1.25],[272,1.2],[274,0.9],[276,0.4],[278,-0.2],[280,-0.55]];
const jCov1: Pt[] = [[0,0.0],[1,0.4],[3,0.3],[5,0.5],[7,0.9],[9,1.2],[10,1.2],[12,0.9],[13,0.3],[14,-0.5],[15,-0.75],[17,-0.6],[19,-0.5],[21,-0.45],[23,-0.2],[25,0.3],[27,0.7],[29,0.85],[30,0.7],[31,0.65],[33,0.6],[35,0.6],[36,0.1],[37,-0.6],[38,-1.3],[40,-1.75],[42,-1.8],[43,-1.85],[44,-1.5],[46,0.3],[48,0.5],[50,0.55],[52,0.35],[54,0.7],[55,0.5],[56,-0.2],[58,0.8],[60,1.1],[62,0.3],[64,-0.5],[66,-0.45],[68,-0.35],[70,-0.45],[72,-0.65],[74,-0.5],[76,0.5],[78,0.95],[79,0.8],[80,-0.3],[82,-1.6],[84,0.5],[86,1.5],[87,1.45],[89,0.8],[91,-0.2],[92,0.5],[94,0.55],[96,0.5],[98,0.1],[100,-0.3],[102,-0.15],[104,0.3],[106,0.5],[108,0.55],[110,0.55],[112,0.3],[114,-0.5],[116,-1.2],[118,-1.4],[120,-1.45],[122,-1.55],[124,-1.2],[126,-0.3],[128,-0.1],[130,-0.15],[132,0.05],[134,-0.3],[136,0.3],[138,0.8],[140,0.3],[141,-0.25],[143,0.45],[145,0.1],[147,-0.5],[149,-0.4],[151,-0.6],[153,-0.85],[155,-0.5],[157,-0.1],[159,-0.15],[161,0.25],[163,0.3],[165,1.1],[166,0.9],[168,-0.3],[170,-1.1],[172,-1.7],[174,-0.2],[176,1.35],[177,1.4],[178,0.9],[179,0.05],[181,0.5],[183,0.7],[185,0.72],[187,0.8],[189,0.85],[191,0.85],[193,0.5],[195,-0.2],[197,-0.8],[199,-1.0],[201,-1.1],[203,-1.2],[205,-1.15],[207,-1.0],[209,-0.8],[211,-0.2],[213,0.2],[215,0.4],[216,0.0],[218,-0.6],[220,-0.9],[222,-0.95],[224,-0.5],[225,-0.65],[227,0.5],[228,0.75],[230,0.65],[232,0.75],[234,0.55],[236,0.95],[238,1.0],[240,0.1],[242,0.6],[244,0.5],[246,0.65],[248,0.8],[250,0.9],[252,1.0],[253,0.7],[255,-0.3],[257,-0.6],[259,0.5],[261,1.4],[262,1.5],[264,1.3],[266,0.55],[267,0.1],[269,0.6],[270,-0.1],[272,-0.95],[274,-1.5],[276,-1.6],[278,-1.3],[280,-1.1]];

// ---------- axis ticks ----------
const ticksX25 = [0, 25, 50, 75, 100, 125, 150, 175];
const ticksX20 = [0, 20, 40, 60, 80, 100, 120, 140];
const ticksX50 = [0, 50, 100, 150, 200, 250, 300];
const ticksX100 = [0, 100, 200, 300, 400, 500, 600];

type Series = { name: string; color: string; points: Pt[] };
type PanelSpec = {
  caption: string;
  left: number;
  top: number;
  width: number;
  height: number;
  xDomain: [number, number];
  yDomain: [number, number];
  xTicks: number[];
  yTicks: number[];
  yDigits: number;
  capX: number;
  capY: number;
  series: Series[];
};

const s = (name: string, color: string, points: Pt[]): Series => ({ name, color, points });

const panels: PanelSpec[] = [
  { caption: "(a)", left: 22, top: 9, width: 353, height: 130, xDomain: [0, 187.4], yDomain: [-0.89, 3.0], xTicks: ticksX25, yTicks: [-0.5, 0, 0.5, 1, 1.5, 2, 2.5, 3], yDigits: 1, capX: 190, capY: 175,
    series: [s("Target", BLUE, aTarget), s("Covariate_1", ORANGE, aCov1)] },
  { caption: "(b)", left: 429, top: 6, width: 357, height: 133, xDomain: [0, 141.5], yDomain: [-1.9, 2.65], xTicks: ticksX20, yTicks: [-1, 0, 1, 2], yDigits: 0, capX: 603, capY: 175,
    series: [s("Target", BLUE, bTarget), s("Covariate_1", ORANGE, bCov1), s("Covariate_2", GREEN, bCov2)] },
  { caption: "(c)", left: 22, top: 192, width: 353, height: 132, xDomain: [0, 233.3], yDomain: [-1.85, 1.8], xTicks: [0, 50, 100, 150, 200], yTicks: [-1.5, -1, -0.5, 0, 0.5, 1, 1.5], yDigits: 1, capX: 190, capY: 360,
    series: [s("Target", BLUE, cTarget), s("Covariate_1", ORANGE, cCov1)] },
  { caption: "(d)", left: 434, top: 194, width: 353, height: 130, xDomain: [0, 192.2], yDomain: [-1.41, 2.12], xTicks: ticksX25, yTicks: [-1, -0.5, 0, 0.5, 1, 1.5, 2], yDigits: 1, capX: 601, capY: 360,
    series: [s("Target", BLUE, dTarget), s("Covariate_1", ORANGE, dCov1)] },
  { caption: "(e)", left: 22, top: 378, width: 353, height: 132, xDomain: [0, 675], yDomain: [-1.65, 2.41], xTicks: ticksX100, yTicks: [-1.5, -1, -0.5, 0, 0.5, 1, 1.5, 2], yDigits: 1, capX: 190, capY: 546,
    series: [s("Target", BLUE, eTarget), s("Covariate_1", ORANGE, eCov1), s("Covariate_2", GREEN, eCov2), s("Covariate_3", RED, eCov3)] },
  { caption: "(f)", left: 429, top: 379, width: 358, height: 132, xDomain: [0, 312.8], yDomain: [-2.99, 1.81], xTicks: ticksX50, yTicks: [-2, -1, 0, 1], yDigits: 0, capX: 603, capY: 546,
    series: [s("Target", BLUE, fTarget), s("Covariate_1", ORANGE, fCov1)] },
  { caption: "(g)", left: 22, top: 565, width: 360, height: 134, xDomain: [0, 673.5], yDomain: [-1.86, 2.28], xTicks: ticksX100, yTicks: [-1.5, -1, -0.5, 0, 0.5, 1, 1.5, 2], yDigits: 1, capX: 190, capY: 735,
    series: [s("Target", BLUE, gTarget), s("Covariate_1", ORANGE, gCov1), s("Covariate_2", GREEN, gCov2)] },
  { caption: "(h)", left: 427, top: 565, width: 360, height: 134, xDomain: [0, 673], yDomain: [-2.19, 1.29], xTicks: ticksX100, yTicks: [-2, -1.5, -1, -0.5, 0, 0.5, 1], yDigits: 1, capX: 603, capY: 735,
    series: [s("Target", BLUE, hTarget), s("Covariate_1", ORANGE, hCov1)] },
  { caption: "(i)", left: 22, top: 756, width: 353, height: 129, xDomain: [0, 674.5], yDomain: [-2.23, 2.01], xTicks: ticksX100, yTicks: [-2, -1.5, -1, -0.5, 0, 0.5, 1, 1.5, 2], yDigits: 1, capX: 190, capY: 921,
    series: [s("Target", BLUE, iTarget), s("Covariate_1", ORANGE, iCov1)] },
  { caption: "(j)", left: 434, top: 754, width: 353, height: 131, xDomain: [0, 279], yDomain: [-2.03, 1.7], xTicks: [0, 50, 100, 150, 200, 250], yTicks: [-2, -1.5, -1, -0.5, 0, 0.5, 1, 1.5], yDigits: 1, capX: 603, capY: 921,
    series: [s("Target", BLUE, jTarget), s("Covariate_1", ORANGE, jCov1)] },
];

function fmt(digits: number) {
  return (v: number) => {
    const t = v.toFixed(digits);
    return t.startsWith("-") ? "\u2212" + t.slice(1) : t;
  };
}

// legend box drawn like matplotlib's: entries in plotting order
function LegendBox({ series }: { series: Series[] }) {
  return (
    <div
      style={{
        display: "inline-flex",
        alignItems: "center",
        gap: 10,
        padding: "1px 4px",
        border: "0.8px solid #d4d4d4",
        borderRadius: 2,
        background: "rgba(255,255,255,0.85)",
        fontFamily: FONT,
        fontSize: 5.3,
        color: "#222",
        lineHeight: "6px",
      }}
    >
      {series.map((e) => (
        <span key={e.name} style={{ display: "inline-flex", alignItems: "center" }}>
          <span style={{ display: "inline-block", width: 13, height: 1.3, background: e.color, marginRight: 4 }} />
          {e.name}
        </span>
      ))}
    </div>
  );
}

const PAD_L = 30;
const PAD_T = 4;
const PAD_R = 5;
const PAD_B = 14;
const SPINE = { stroke: "#1a1a1a", strokeWidth: 1.1 };

function Panel({ p }: { p: PanelSpec }) {
  const tickStyle = { fontSize: 5.6, fill: "#333", fontFamily: FONT };
  return (
    <>
      <div style={{ position: "absolute", left: p.left - PAD_L, top: p.top - PAD_T }}>
        <LineChart
          width={p.width + PAD_L + PAD_R}
          height={p.height + PAD_T + PAD_B}
          margin={{ top: PAD_T, right: PAD_R, left: 0, bottom: 0 }}
        >
          <XAxis
            type="number"
            dataKey="x"
            domain={p.xDomain}
            ticks={p.xTicks}
            interval={0}
            allowDataOverflow
            height={PAD_B}
            axisLine={SPINE}
            tickLine={{ stroke: "#222", strokeWidth: 0.8 }}
            tickSize={2.5}
            tickMargin={1}
            tick={tickStyle}
          />
          <YAxis
            type="number"
            domain={p.yDomain}
            ticks={p.yTicks}
            interval={0}
            allowDataOverflow
            width={PAD_L}
            axisLine={SPINE}
            tickLine={{ stroke: "#222", strokeWidth: 0.8 }}
            tickSize={2.5}
            tickMargin={1.5}
            tick={tickStyle}
            tickFormatter={fmt(p.yDigits)}
          />
          {p.series.map((sr) => (
            <Line
              key={sr.name}
              data={sr.points.map(([x, y]) => ({ x, y }))}
              dataKey="y"
              name={sr.name}
              type="linear"
              stroke={sr.color}
              strokeWidth={1}
              dot={false}
              activeDot={false}
              isAnimationActive={false}
            />
          ))}
          <ReferenceArea
            x1={p.xDomain[0]}
            x2={p.xDomain[1]}
            y1={p.yDomain[0]}
            y2={p.yDomain[1]}
            fill="none"
            stroke={SPINE.stroke}
            strokeWidth={SPINE.strokeWidth}
          />
          <Legend
            layout="horizontal"
            verticalAlign="middle"
            align="center"
            wrapperStyle={{
              top: PAD_T + 3,
              left: PAD_L,
              width: p.width,
              height: "auto",
              display: "flex",
              justifyContent: "center",
            }}
            content={() => <LegendBox series={p.series} />}
          />
        </LineChart>
      </div>
      <div
        style={{
          position: "absolute",
          left: p.capX - 30,
          top: p.capY - 11,
          width: 60,
          textAlign: "center",
          fontFamily: "'Liberation Serif', 'Times New Roman', serif",
          fontSize: 18,
          lineHeight: "22px",
          color: "#111",
        }}
      >
        {p.caption}
      </div>
    </>
  );
}

export default function App() {
  // fixed to the viewport so nothing can push a scrollbar in
  return (
    <div style={{ position: "fixed", left: 0, top: 0, width: 793, height: 937, background: "#fff", overflow: "hidden" }}>
      {panels.map((p) => (
        <Panel key={p.caption} p={p} />
      ))}
    </div>
  );
}
